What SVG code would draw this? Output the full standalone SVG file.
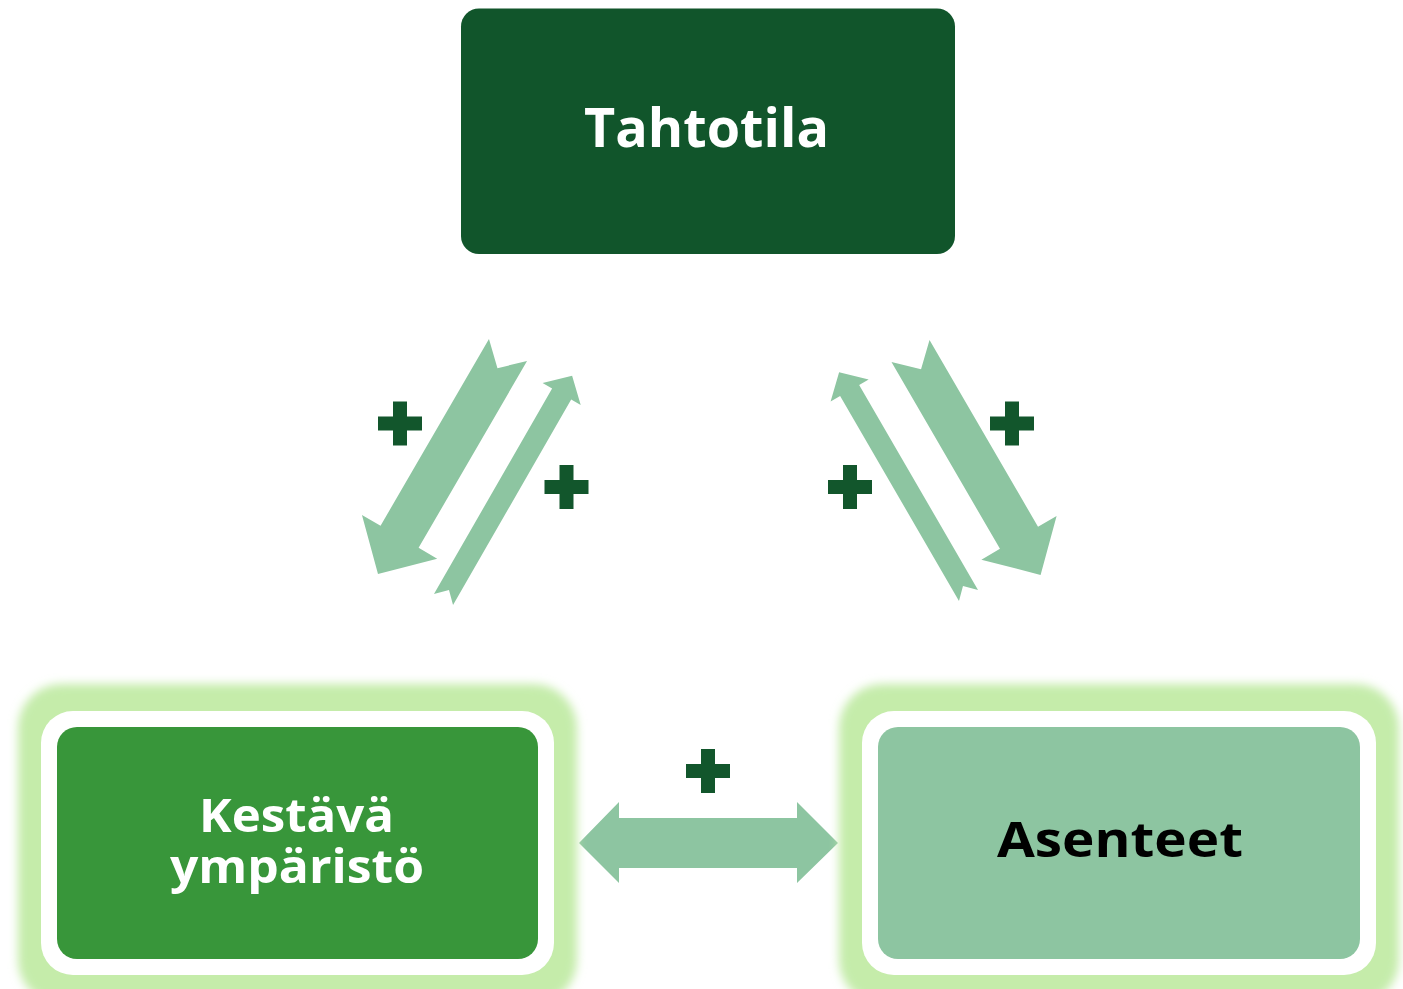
<svg xmlns="http://www.w3.org/2000/svg" width="1403" height="989" viewBox="0 0 1403 989">
<style>
.arrow{fill:#8dc5a1;}
.plus{fill:#12562c;}
.lbl{font-family:"Open Sans","Liberation Sans",sans-serif;font-weight:700;}
.glow{fill:#c5ecaa;filter:url(#blur);}
.frame{fill:#ffffff;}
</style>
<defs>
<filter id="blur" x="-10%" y="-15%" width="120%" height="130%"><feGaussianBlur stdDeviation="5"/></filter>
<polygon id="bigArrow" points="0,-22 216,-22 216,-43.5 259,0 216,43.5 216,22 0,22 21,0"/>
<polygon id="smallArrow" points="0,-11 237,-11 237,-22 258,0 237,22 237,11 0,11 11,0"/>
<path id="plusSign" d="M-7,-22 H7 V-7 H22 V7 H7 V22 H-7 V7 H-22 V-7 H-7 Z"/>
</defs>
<rect width="1403" height="989" fill="#ffffff"/>

<g id="connectors">
<use href="#bigArrow" class="arrow" transform="translate(508,350) rotate(120.13)"/>
<use href="#smallArrow" class="arrow" transform="translate(443.5,599.5) rotate(-60.1)"/>
<use href="#bigArrow" class="arrow" transform="translate(910.5,351) rotate(59.85)"/>
<use href="#smallArrow" class="arrow" transform="translate(968.5,595.5) rotate(-120.1)"/>
<polygon class="arrow" points="579,843 619,802 619,818 797,818 797,802 838,843 797,883 797,868 619,868 619,883"/>
<use href="#plusSign" class="plus" transform="translate(400,423.5)"/>
<use href="#plusSign" class="plus" transform="translate(566.5,487)"/>
<use href="#plusSign" class="plus" transform="translate(1012,423.5)"/>
<use href="#plusSign" class="plus" transform="translate(850,487)"/>
<use href="#plusSign" class="plus" transform="translate(708,771)"/>
</g>

<g id="node-tahtotila">
<rect x="461" y="8.5" width="494" height="245.5" rx="18" fill="#11552b"/>
<text class="lbl" x="584" y="147" font-size="53" fill="#ffffff" textLength="245" lengthAdjust="spacingAndGlyphs">Tahtotila</text>
</g>

<g id="node-kestava">
<rect class="glow" x="18" y="684" width="559" height="320" rx="44"/>
<rect class="frame" x="41" y="711" width="513" height="264" rx="32"/>
<rect x="57" y="727" width="481" height="232" rx="20" fill="#38963a"/>
<text class="lbl" font-size="47" fill="#ffffff"><tspan x="199" y="832" textLength="195" lengthAdjust="spacingAndGlyphs">Kestävä</tspan><tspan x="170" y="883" textLength="254" lengthAdjust="spacingAndGlyphs">ympäristö</tspan></text>
</g>

<g id="node-asenteet">
<rect class="glow" x="839" y="684" width="560" height="320" rx="44"/>
<rect class="frame" x="862" y="711" width="514" height="264" rx="32"/>
<rect x="878" y="727" width="482" height="232" rx="20" fill="#8dc5a1"/>
<text class="lbl" x="997" y="857" font-size="48" fill="#000000" textLength="246" lengthAdjust="spacingAndGlyphs">Asenteet</text>
</g>
</svg>
